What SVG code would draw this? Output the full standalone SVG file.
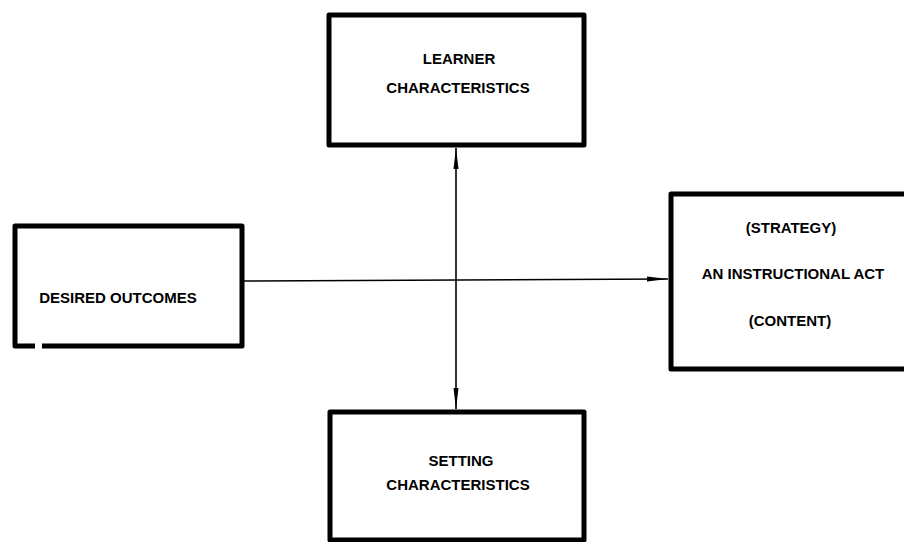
<svg xmlns="http://www.w3.org/2000/svg" width="904" height="542" viewBox="0 0 904 542">
  <style>
    .box { fill: #fff; stroke: #000; stroke-width: 5; stroke-linejoin: round; }
    .lbl { font-family: "Liberation Sans", Arial, sans-serif; font-weight: bold; font-size: 15px; letter-spacing: 0; fill: #000; text-anchor: middle; }
    .conn { stroke: #000; stroke-width: 1.6; fill: none; }
  </style>
  <defs>
    <marker id="arrow" markerUnits="userSpaceOnUse" markerWidth="22" markerHeight="10" refX="21" refY="5" orient="auto-start-reverse">
      <path d="M0,2.5 L21,5 L0,7.5 Z" fill="#000"/>
    </marker>
  </defs>
  <rect width="904" height="542" fill="#fff"/>

  <g id="connectors">
    <line class="conn" x1="243" y1="281" x2="668" y2="279" marker-end="url(#arrow)"/>
    <line class="conn" x1="456" y1="148" x2="456" y2="409" marker-start="url(#arrow)" marker-end="url(#arrow)"/>
  </g>

  <g id="learner">
    <rect class="box" x="329" y="15" width="255" height="130"/>
    <text class="lbl" x="459" y="64">LEARNER</text>
    <text class="lbl" x="458" y="93">CHARACTERISTICS</text>
  </g>

  <g id="setting">
    <rect class="box" x="330" y="412" width="254" height="128"/>
    <text class="lbl" x="461" y="466">SETTING</text>
    <text class="lbl" x="458" y="490">CHARACTERISTICS</text>
  </g>

  <g id="outcomes">
    <path class="box" d="M35,346 L15,346 L15,226 L242,226 L242,346 L42,346"/>
    <text class="lbl" x="118" y="303">DESIRED OUTCOMES</text>
  </g>

  <g id="act">
    <path class="box" d="M910,194 L671,194 L671,369 L910,369"/>
    <text class="lbl" x="791" y="233">(STRATEGY)</text>
    <text class="lbl" x="793" y="279">AN INSTRUCTIONAL ACT</text>
    <text class="lbl" x="790" y="326">(CONTENT)</text>
  </g>
</svg>
